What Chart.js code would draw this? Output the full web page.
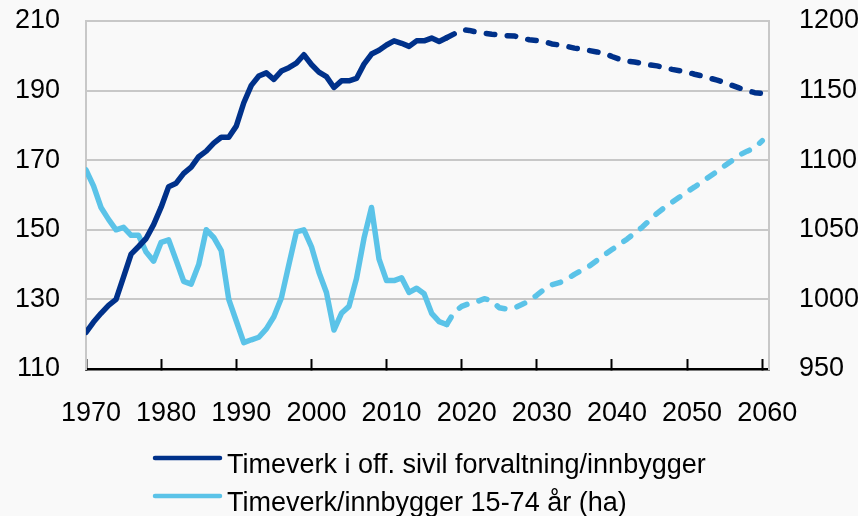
<!DOCTYPE html>
<html>
<head>
<meta charset="utf-8">
<script src="https://cdn.jsdelivr.net/npm/chart.js@4.4.1/dist/chart.umd.min.js"></script>
<style>
    body { margin: 0; background: #f9f9f9; }
    #wrap { width: 858px; height: 516px; position: relative; }
</style>
</head>
<body>
<div id="wrap"><canvas id="timeverk-chart"></canvas></div>
<script>
const years = Array.from({ length: 91 }, (_, i) => 1970 + i);
const xTicks = [1970, 1980, 1990, 2000, 2010, 2020, 2030, 2040, 2050, 2060];
const lastHistoricYear = 2018;

// left axis
const sivilForvaltning = [
    120.5, 123.5, 126, 128.3, 130, 136.5, 143, 145.2, 147.5, 151.5,
    156.5, 162.4, 163.4, 166.2, 168, 171, 172.6, 174.9, 176.6, 176.6,
    179.8, 186.5, 191.5, 194.2, 195.1, 193.2, 195.6, 196.6, 197.9, 200.3,
    197.5, 195.3, 194, 190.9, 192.8, 192.8, 193.5, 197.6, 200.5, 201.6,
    203.1, 204.3, 203.6, 202.7, 204.3, 204.3, 205.1, 204.1, 205.2, 206.3,
    207.5, 207.3, 206.8, 206.5, 206.2, 206, 205.8, 205.7, 205.1, 204.6,
    204.4, 204.1, 203.4, 203.1, 202.7, 202.2, 201.9, 201.5, 201.1, 200.7,
    199.8, 199, 198.5, 198.2, 197.8, 197.4, 197.1, 196.6, 196.1, 195.7,
    195.3, 194.7, 194.2, 193.6, 193, 192.3, 191.5, 190.7, 190, 189.4,
    189.2
];

// right axis
const timeverkPerInnbygger = [
    1093, 1081.5, 1066, 1057.5, 1050, 1051.8, 1046, 1046, 1034, 1027.5,
    1041, 1042.8, 1028, 1013, 1011, 1025, 1050, 1044.5, 1035, 1000,
    984.5, 969, 971, 972.8, 978.8, 987.5, 1001, 1025, 1048.5, 1050,
    1038, 1019.5, 1005, 978, 990, 995, 1015, 1044, 1066, 1029,
    1013.5, 1013.5, 1015.5, 1005, 1008, 1004, 990, 984, 982, 990.8,
    995, 997, 998.3, 1000.5, 999, 994, 993, 993.8, 996.3, 999,
    1003, 1007.3, 1010.5, 1012, 1014.5, 1018, 1021, 1024, 1028, 1032,
    1035.8, 1039.5, 1043.3, 1047.5, 1051.8, 1056.8, 1061.8, 1066, 1069.8, 1073.5,
    1077.3, 1080.8, 1084.5, 1088.3, 1092, 1096, 1099.8, 1103.8, 1106.5, 1109,
    1114
];

const labelFont = { family: "'Liberation Sans Narrow', 'Liberation Sans', Arial, sans-serif", size: 27 };

const dashAfterHistory = ctx => ctx.p0.parsed.x >= lastHistoricYear ? [8.5, 12.5] : undefined;

// y axes should not push the plot down for their tick padding
const trimYPadding = s => {
    s.paddingTop = 0;
    s.paddingBottom = 0;
};

const stackedLegend = {
    id: "stackedLegend",
    afterDraw(chart) {
        const ctx = chart.ctx;
        const rows = [458, 496];
        ctx.save();
        chart.data.datasets.forEach((ds, i) => {
            const y = rows[i];
            ctx.strokeStyle = ds.borderColor;
            ctx.lineWidth = 4.5;
            ctx.lineCap = "round";
            ctx.beginPath();
            ctx.moveTo(155, y);
            ctx.lineTo(220, y);
            ctx.stroke();
            ctx.fillStyle = "#000";
            ctx.font = `${labelFont.size}px ${labelFont.family}`;
            ctx.textBaseline = "alphabetic";
            ctx.fillText(ds.label, 227, y + 15);
        });
        ctx.restore();
    }
};

new Chart(document.getElementById("timeverk-chart"), {
    type: "line",
    data: {
        datasets: [
            {
                label: "Timeverk i off. sivil forvaltning/innbygger",
                data: years.map((yr, i) => ({ x: yr, y: sivilForvaltning[i] })),
                borderColor: "#00318A",
                borderWidth: 5.5,
                borderCapStyle: "round",
                borderJoinStyle: "round",
                pointRadius: 0,
                tension: 0,
                yAxisID: "yLeft",
                segment: { borderDash: dashAfterHistory }
            },
            {
                label: "Timeverk/innbygger 15-74 år (ha)",
                data: years.map((yr, i) => ({ x: yr, y: timeverkPerInnbygger[i] })),
                borderColor: "#5BC3E8",
                borderWidth: 5.5,
                borderCapStyle: "round",
                borderJoinStyle: "round",
                pointRadius: 0,
                tension: 0,
                yAxisID: "yRight",
                segment: { borderDash: dashAfterHistory }
            }
        ]
    },
    options: {
        responsive: true,
        maintainAspectRatio: false,
        animation: false,
        layout: { padding: { top: 21, bottom: 91, left: 0, right: 0 } },
        plugins: {
            legend: { display: false },
            tooltip: { enabled: false }
        },
        scales: {
            x: {
                type: "linear",
                min: 1970,
                max: 2060.9,
                afterFit: s => { s.height = 56; },
                afterBuildTicks: s => { s.ticks = xTicks.map(v => ({ value: v })); },
                ticks: {
                    color: "#000",
                    font: labelFont,
                    padding: 38,
                    labelOffset: 5,
                    maxRotation: 0,
                    callback: v => String(v)
                },
                grid: {
                    drawOnChartArea: false,
                    drawTicks: true,
                    tickLength: -10,
                    tickColor: "#000",
                    tickWidth: 2
                },
                border: { color: "#000", width: 2.5 }
            },
            yLeft: {
                position: "left",
                min: 110,
                max: 210,
                afterFit: s => { s.width = 86; trimYPadding(s); },
                ticks: { stepSize: 20, color: "#000", font: labelFont, padding: 26, callback: v => String(v) },
                grid: { color: "#c8c8c8", lineWidth: 2, drawTicks: false },
                border: { color: "#c8c8c8", width: 2 }
            },
            yRight: {
                position: "right",
                min: 950,
                max: 1200,
                afterFit: s => { s.width = 89; trimYPadding(s); },
                ticks: { stepSize: 50, color: "#000", font: labelFont, padding: 30, callback: v => String(v) },
                grid: { drawOnChartArea: false, drawTicks: false },
                border: { color: "#c8c8c8", width: 2 }
            }
        }
    },
    plugins: [stackedLegend]
});
</script>
</body>
</html>
